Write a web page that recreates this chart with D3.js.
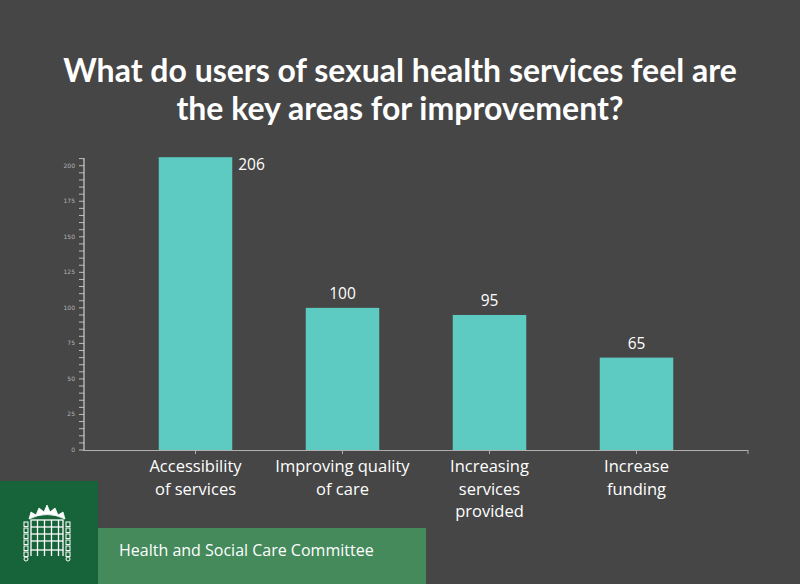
<!DOCTYPE html>
<html><head><meta charset="utf-8">
<script src="https://cdn.jsdelivr.net/npm/d3@7"></script>
<style>html,body{margin:0;padding:0;background:#464646;}</style>
</head><body>
<svg id="c" width="800" height="584"></svg>
<script>
const categories = [["Accessibility","of services"],["Improving quality","of care"],["Increasing","services","provided"],["Increase","funding"]];
const values = [206, 100, 95, 65];
const majorTicks = [0,25,50,75,100,125,150,175,200];
const titleLines = ["What do users of sexual health services feel are","the key areas for improvement?"];
const footerText = "Health and Social Care Committee";

const svg = d3.select("#c");
svg.append("rect").attr("width",800).attr("height",584).attr("fill","#464646");

svg.selectAll("text.title").data(titleLines).join("text")
  .attr("x",400).attr("y",(d,i)=>82+i*38).attr("text-anchor","middle")
  .attr("fill","#fff").attr("font-family","Lato, 'Open Sans', sans-serif").attr("font-weight","bold")
  .attr("font-size",32).text(d=>d);

const y = d3.scaleLinear().domain([0,206]).range([450,157.2]);
const x = d3.scaleBand().domain(categories.map((d,i)=>i)).range([122,710]).paddingInner(0.5).paddingOuter(0.25);

// y axis
const minor = d3.range(0,206,5);
svg.selectAll("line.mt").data(minor).join("line")
  .attr("x1",79).attr("x2",84).attr("y1",d=>y(d)).attr("y2",d=>y(d))
  .attr("stroke","#bdbdbd").attr("stroke-width",1);
svg.append("line").attr("x1",84).attr("x2",84).attr("y1",158).attr("y2",451).attr("stroke","#cfcfcf").attr("stroke-width",1.2);
svg.selectAll("text.yt").data(majorTicks).join("text")
  .attr("x",75).attr("y",d=>y(d)+2).attr("text-anchor","end")
  .attr("fill","#b5b5b5").attr("font-family","'DejaVu Sans', sans-serif").attr("font-size",6).text(d=>d);

// bars
svg.selectAll("rect.bar").data(values).join("rect")
  .attr("x",(d,i)=>x(i)).attr("width",x.bandwidth())
  .attr("y",d=>y(d)).attr("height",d=>y(0)-y(d)).attr("fill","#5ecbc3");

// x axis
svg.append("line").attr("x1",84).attr("x2",748).attr("y1",450.5).attr("y2",450.5).attr("stroke","#b0b0b0").attr("stroke-width",1.2);
svg.selectAll("line.xt").data(values).join("line")
  .attr("x1",(d,i)=>x(i)+x.bandwidth()/2).attr("x2",(d,i)=>x(i)+x.bandwidth()/2)
  .attr("y1",450).attr("y2",454).attr("stroke","#b0b0b0");
svg.append("line").attr("x1",748).attr("x2",748).attr("y1",450).attr("y2",454).attr("stroke","#b0b0b0");

// value labels
svg.selectAll("text.val").data(values).join("text")
  .attr("x",(d,i)=> i===0 ? x(i)+x.bandwidth()+6 : x(i)+x.bandwidth()/2)
  .attr("y",(d,i)=> i===0 ? y(d)+13 : y(d)-9)
  .attr("text-anchor",(d,i)=> i===0 ? "start" : "middle")
  .attr("fill","#fff").attr("font-family","'Open Sans', sans-serif").attr("font-size",15.5).text(d=>d);

// category labels
categories.forEach((lines,i)=>{
  svg.append("g").selectAll("text").data(lines).join("text")
    .attr("x",x(i)+x.bandwidth()/2).attr("y",(d,j)=>472+j*22.5)
    .attr("text-anchor","middle").attr("fill","#fff")
    .attr("font-family","'Open Sans', sans-serif").attr("font-size",16.5).text(d=>d);
});

// footer
svg.append("rect").attr("x",0).attr("y",481).attr("width",98).attr("height",103).attr("fill","#17643a");
svg.append("rect").attr("x",98).attr("y",528).attr("width",328).attr("height",56).attr("fill","#448a5b");
svg.append("text").attr("x",119).attr("y",556).attr("fill","#fff")
  .attr("font-family","'Open Sans', sans-serif").attr("font-size",16).text(footerText);

// portcullis logo
const lg = svg.append("g").attr("stroke","#fff").attr("fill","none").attr("stroke-width",1.3);
lg.append("path").attr("d","M29,519 Q47,510 65,519 L63,512 L58,515 L55,508 L50,512 L47,505 L44,512 L39,508 L36,515 L31,512 Z").attr("fill","#fff").attr("stroke-width",0.8);
lg.append("rect").attr("x",31).attr("y",520).attr("width",32).attr("height",30);
[38,45,52,59].forEach(v=>lg.append("line").attr("x1",v-0.5).attr("x2",v-0.5).attr("y1",520).attr("y2",556));
lg.append("line").attr("x1",31).attr("x2",31).attr("y1",550).attr("y2",556);
lg.append("line").attr("x1",63).attr("x2",63).attr("y1",550).attr("y2",556);
[527,534,541].forEach(v=>lg.append("line").attr("x1",31).attr("x2",63).attr("y1",v).attr("y2",v));
[26,68].forEach(cx=>{
  [522,528,534,540,546,552].forEach(cy=>lg.append("rect").attr("x",cx-2).attr("y",cy).attr("width",4).attr("height",4.5).attr("stroke-width",1));
  lg.append("circle").attr("cx",cx).attr("cy",559).attr("r",2).attr("stroke-width",1);
});
</script>
</body></html>
